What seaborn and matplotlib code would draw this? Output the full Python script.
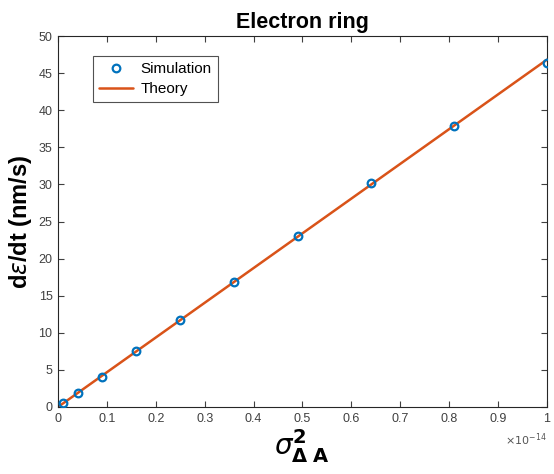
import numpy as np
import pandas as pd
import matplotlib
matplotlib.use("Agg")
import matplotlib.pyplot as plt
import seaborn as sns

# data
sigma2 = [0.01e-14, 0.04e-14, 0.09e-14, 0.16e-14, 0.25e-14, 0.36e-14, 0.49e-14, 0.64e-14, 0.81e-14, 1.0e-14]
sim_rate = [0.5, 1.9, 4.1, 7.5, 11.7, 16.9, 23.0, 30.2, 37.9, 46.3]
theory_x = [0.0, 1.0e-14]
theory_y = [0.0, 46.8]
xtick_labels = ["0", "0.1", "0.2", "0.3", "0.4", "0.5", "0.6", "0.7", "0.8", "0.9", "1"]

sns.set_theme(style="white")
plt.rcParams['font.family'] = ['Liberation Sans', 'DejaVu Sans']
plt.rcParams['mathtext.fontset'] = 'dejavusans'

fig = plt.figure(figsize=(5.54, 4.74), dpi=100)
ax = fig.add_axes([0.1047, 0.1414, 0.8823, 0.7826])

df_sim = pd.DataFrame({"x": sigma2, "y": sim_rate})
df_th = pd.DataFrame({"x": theory_x, "y": theory_y})

sns.lineplot(data=df_th, x="x", y="y", ax=ax, color="#D95319", linewidth=1.8,
             label="Theory", zorder=2)
ax.plot(df_sim["x"], df_sim["y"], linestyle="none", marker="o", markersize=5.5,
        markerfacecolor="none", markeredgecolor="#0072BD", markeredgewidth=1.6,
        label="Simulation", zorder=3)

ax.set_xlim(0, 1e-14)
ax.set_ylim(0, 50)
ax.set_xticks(np.arange(0, 1.01e-14, 0.1e-14))
ax.set_yticks(np.arange(0, 51, 5))
ax.set_xticklabels(xtick_labels)

ax.tick_params(axis="both", which="both", direction="in", length=4, width=0.8,
               top=True, right=True, bottom=True, left=True,
               labelsize=9, colors="#404040", pad=4)
for s in ax.spines.values():
    s.set_color("#262626")
    s.set_linewidth(0.8)

ax.text(1.0, -0.065, r"$\times10^{-14}$", transform=ax.transAxes, ha="right",
        va="top", fontsize=8, color="#555555")

ax.set_title("Electron ring", fontsize=15.5, fontweight="bold", color="black", pad=6)
ax.set_ylabel(r"d$\epsilon$/dt (nm/s)", fontsize=17, fontweight="bold", color="black", labelpad=3)
ax.set_xlabel(r"$\sigma^{\mathbf{2}}_{\mathbf{\Delta\ A}}$", fontsize=20, color="black", labelpad=2)

handles, labels = ax.get_legend_handles_labels()
order = [labels.index("Simulation"), labels.index("Theory")]
leg = ax.legend([handles[i] for i in order], [labels[i] for i in order],
                loc="upper left", bbox_to_anchor=(0.072, 0.946), borderaxespad=0,
                fontsize=11, frameon=True, fancybox=False, edgecolor="#262626",
                handlelength=2.2, borderpad=0.4, labelspacing=0.4, handletextpad=0.5)
leg.get_frame().set_linewidth(0.8)
for t in leg.get_texts():
    t.set_color("black")

fig.savefig("out.png", dpi=100)
